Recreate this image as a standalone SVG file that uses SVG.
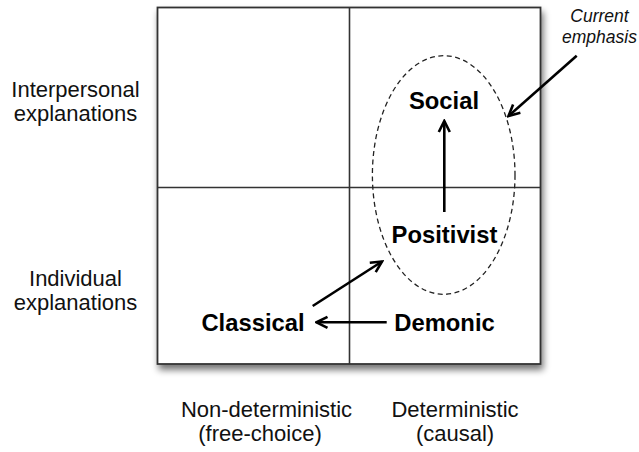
<svg xmlns="http://www.w3.org/2000/svg" width="639" height="452" viewBox="0 0 639 452">
  <style>
    .axis { font-family: "Liberation Sans", Arial, sans-serif; font-size: 22px; fill: #111; text-anchor: middle; }
    .node { font-family: "Liberation Sans", Arial, sans-serif; font-size: 23.8px; font-weight: bold; fill: #000; text-anchor: middle; }
    .note { font-family: "Liberation Sans", Arial, sans-serif; font-size: 17.5px; font-style: italic; fill: #111; text-anchor: middle; }
    .grid { stroke: #333; stroke-width: 1.6; fill: none; }
    .edge { stroke: #000; stroke-width: 2.6; fill: none; marker-end: url(#head); }
  </style>
  <defs>
    <filter id="shadow" x="-10%" y="-10%" width="125%" height="125%">
      <feGaussianBlur in="SourceAlpha" stdDeviation="3.5"/>
      <feOffset dx="1.5" dy="5" result="blur"/>
      <feComponentTransfer><feFuncA type="linear" slope="0.55"/></feComponentTransfer>
      <feMerge><feMergeNode/><feMergeNode in="SourceGraphic"/></feMerge>
    </filter>
    <marker id="head" markerUnits="userSpaceOnUse" markerWidth="16" markerHeight="16" viewBox="-14 -8 16 16" refX="0" refY="0" orient="auto">
      <path d="M-11,-5.5 L0,0 L-11,5.5" fill="none" stroke="#000" stroke-width="2.6" stroke-linejoin="miter"/>
    </marker>
  </defs>

  <!-- quadrant frame -->
  <g id="frame">
    <rect x="157.5" y="7.5" width="383" height="356.5" fill="#fff" stroke="#333" stroke-width="1.8" filter="url(#shadow)"/>
    <line class="grid" x1="349.5" y1="7.5" x2="349.5" y2="364"/>
    <line class="grid" x1="157.5" y1="187.5" x2="540.5" y2="187.5"/>
  </g>

  <!-- axis labels -->
  <g id="axis-labels">
    <text class="axis" x="75.5" y="96.5">Interpersonal</text>
    <text class="axis" x="75.5" y="120.5">explanations</text>
    <text class="axis" x="75.5" y="285.5">Individual</text>
    <text class="axis" x="75.5" y="309.5">explanations</text>
    <text class="axis" x="266.5" y="416.5">Non-deterministic</text>
    <text class="axis" x="260" y="440.5">(free-choice)</text>
    <text class="axis" x="455" y="416.5">Deterministic</text>
    <text class="axis" x="455" y="440.5">(causal)</text>
  </g>

  <!-- highlighted region -->
  <g id="emphasis-region">
    <ellipse cx="443.7" cy="175" rx="71.3" ry="119.3" fill="none" stroke="#222" stroke-width="1.3" stroke-dasharray="5 3.5"/>
  </g>

  <g id="note-current-emphasis">
    <text class="note" x="599.5" y="21.5">Current</text>
    <text class="note" x="599.5" y="42.5">emphasis</text>
  </g>

  <g id="node-social"><text class="node" x="444" y="108.5">Social</text></g>
  <g id="node-positivist"><text class="node" x="444.5" y="242.5">Positivist</text></g>
  <g id="node-classical"><text class="node" x="253" y="331">Classical</text></g>
  <g id="node-demonic"><text class="node" x="444.5" y="331">Demonic</text></g>

  <!-- connectors -->
  <g id="connectors">
    <line class="edge" x1="444.3" y1="212" x2="444.3" y2="121"/>
    <line class="edge" x1="386.7" y1="322.3" x2="316.5" y2="322.3"/>
    <line class="edge" x1="312.7" y1="306" x2="382" y2="261.5"/>
    <line class="edge" x1="576.7" y1="55.7" x2="508.5" y2="116"/>
  </g>
</svg>
